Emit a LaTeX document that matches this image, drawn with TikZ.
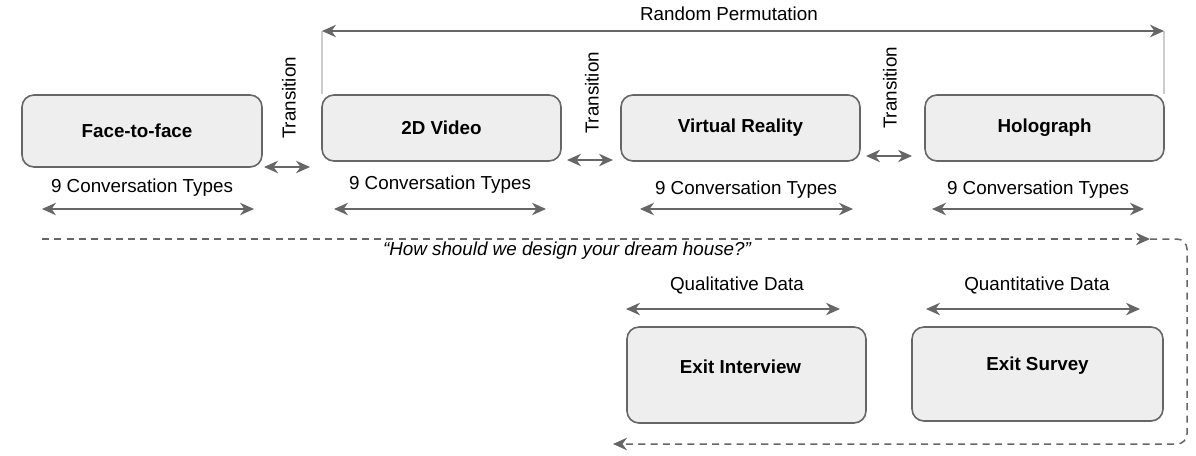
\documentclass[tikz,border=0pt]{standalone}
\usepackage{fontspec}
\setmainfont{Liberation Sans}
\usetikzlibrary{arrows.meta}
\definecolor{boxfill}{HTML}{EEEEEE}
\definecolor{linegray}{HTML}{666666}
\definecolor{thingray}{HTML}{CCCCCC}

\begin{document}
\begin{tikzpicture}[
  box/.style = {draw=linegray, line width=0.9pt, fill=boxfill, rounded corners=0.24cm,
                inner sep=0pt, font=\fontsize{10.7}{12.5}\selectfont\bfseries},
  lbl/.style = {inner sep=1pt, font=\fontsize{10.7}{12.5}\selectfont},
  arr/.style = {{Stealth[length=2.8mm,width=2.5mm,inset=0.9mm]}-{Stealth[length=2.8mm,width=2.5mm,inset=0.9mm]},
                draw=linegray, line width=0.85pt},
  dasharr/.style = {-{Stealth[length=2.8mm,width=2.5mm,inset=0.9mm]}, draw=linegray,
                    line width=0.85pt, dash pattern=on 4pt off 3pt}
]
  \useasboundingbox (0,0) rectangle (23.92,-9.12);

  % Conditions
  \node[box, minimum width=4.8cm,  minimum height=1.44cm] (face)  at (2.84,-2.62)  {};
  \node[box, minimum width=4.78cm, minimum height=1.32cm] (video) at (8.83,-2.56)  {2D Video};
  \node[box, minimum width=4.78cm, minimum height=1.32cm] (vr)    at (14.81,-2.56) {Virtual Reality};
  \node[box, minimum width=4.78cm, minimum height=1.32cm] (holo)  at (20.89,-2.56) {Holograph};
  \node[box, draw=none, fill=none] (facetxt) at (2.74,-2.62) {Face-to-face};

  % Transitions
  \node[lbl, rotate=90] (trans1) at (5.78,-1.96)  {Transition};
  \node[lbl, rotate=90] (trans2) at (11.84,-1.86) {Transition};
  \node[lbl, rotate=90] (trans3) at (17.8,-1.76)  {Transition};
  \coordinate (t1a) at (5.28,-3.34);  \coordinate (t1b) at (6.2,-3.34);
  \coordinate (t2a) at (11.34,-3.2);  \coordinate (t2b) at (12.26,-3.2);
  \coordinate (t3a) at (17.32,-3.12); \coordinate (t3b) at (18.24,-3.12);
  \draw[arr] (t1a) -- (t1b);
  \draw[arr] (t2a) -- (t2b);
  \draw[arr] (t3a) -- (t3b);

  % Random permutation span
  \node[lbl] (perm) at (14.58,-0.28) {Random Permutation};
  \coordinate (pl) at (6.44,-0.62);
  \coordinate (pr) at (23.28,-0.62);
  \draw[thingray, line width=0.6pt] (pl) -- (pl |- video.north);
  \draw[thingray, line width=0.6pt] (pr) -- (pr |- holo.north);
  \draw[arr] (pl) -- (pr);

  % Conversation types
  \node[lbl] (conv1) at (2.84,-3.76)  {9 Conversation Types};
  \node[lbl] (conv2) at (8.8,-3.7)    {9 Conversation Types};
  \node[lbl] (conv3) at (14.92,-3.8)  {9 Conversation Types};
  \node[lbl] (conv4) at (20.76,-3.8)  {9 Conversation Types};
  \coordinate (c1a) at (0.84,-4.18);  \coordinate (c1b) at (5.08,-4.18);
  \coordinate (c2a) at (6.68,-4.18);  \coordinate (c2b) at (10.92,-4.18);
  \coordinate (c3a) at (12.8,-4.18);  \coordinate (c3b) at (17.06,-4.18);
  \coordinate (c4a) at (18.64,-4.18); \coordinate (c4b) at (22.88,-4.18);
  \draw[arr] (c1a) -- (c1b);
  \draw[arr] (c2a) -- (c2b);
  \draw[arr] (c3a) -- (c3b);
  \draw[arr] (c4a) -- (c4b);

  % Prompt and flow to exit
  \node[lbl, font=\fontsize{10.7}{12.5}\selectfont\itshape] (prompt) at (11.34,-5.02)
    {“How should we design your dream house?”};
  \coordinate (d0) at (0.84,-4.78);
  \coordinate (d1) at (23.0,-4.78);
  \coordinate (d2) at (23.74,-4.78);
  \coordinate (d3) at (23.74,-8.88);
  \coordinate (d4) at (12.26,-8.88);
  \draw[dasharr] (d0) -- (d1);
  \draw[dasharr, rounded corners=0.2cm] (d1) -- (d2) -- (d3) -- (d4);

  % Exit measures
  \node[box, minimum width=4.78cm, minimum height=1.92cm] (exitint)  at (14.93,-7.5)  {};
  \node[box, minimum width=5.02cm, minimum height=1.88cm] (exitsurv) at (20.75,-7.48) {};
  \node[box, draw=none, fill=none] (exitinttxt)  at (14.81,-7.34) {Exit Interview};
  \node[box, draw=none, fill=none] (exitsurvtxt) at (20.75,-7.32) {Exit Survey};

  \node[lbl] (qual)  at (14.74,-5.7) {Qualitative Data};
  \node[lbl] (quant) at (20.74,-5.7) {Quantitative Data};
  \coordinate (q1a) at (12.52,-6.18); \coordinate (q1b) at (16.8,-6.18);
  \coordinate (q2a) at (18.52,-6.18); \coordinate (q2b) at (22.8,-6.18);
  \draw[arr] (q1a) -- (q1b);
  \draw[arr] (q2a) -- (q2b);

\end{tikzpicture}
\end{document}
